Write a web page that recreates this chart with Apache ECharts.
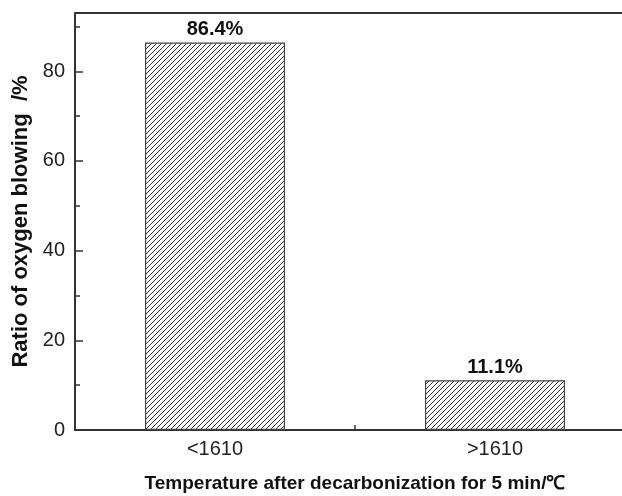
<!DOCTYPE html>
<html>
<head>
<meta charset="utf-8">
<style>
  html, body { margin: 0; padding: 0; background: #fff; }
  #chart { width: 622px; height: 496px; }
</style>
<script src="https://cdn.jsdelivr.net/npm/echarts@6/dist/echarts.min.js"></script>
</head>
<body>
<div id="chart"></div>
<script>
// Categories on the temperature axis and the share of heats in each
const categories = ['<1610', '>1610'];
const ratios = [86.4, 11.1];
const yMajorTicks = [0, 20, 40, 60, 80];
const yMinorTicks = [10, 30, 50, 70, 90];
const yTop = 93;

// Diagonal hatch fill for the bars
function hatchPattern() {
  const c = document.createElement('canvas');
  c.width = 5; c.height = 5;
  const ctx = c.getContext('2d');
  ctx.fillStyle = '#fff';
  ctx.fillRect(0, 0, 5, 5);
  ctx.strokeStyle = '#333';
  ctx.lineWidth = 1;
  ctx.beginPath();
  ctx.moveTo(-1, 6); ctx.lineTo(6, -1);
  ctx.moveTo(-1, 1); ctx.lineTo(1, -1);
  ctx.moveTo(4, 6); ctx.lineTo(6, 4);
  ctx.stroke();
  return c;
}

const chart = echarts.init(document.getElementById('chart'), null, { renderer: 'canvas' });
const axisColor = '#333';
const font = 'Liberation Sans, Arial, Helvetica, sans-serif';

chart.setOption({
  animation: false,
  grid: {
    left: 75, top: 13, width: 560, bottom: 66,
    outerBoundsMode: 'none',
    containLabel: false,
    show: false
  },
  xAxis: {
    type: 'value',
    min: 0.5, max: 2.5, interval: 0.5,
    name: 'Temperature after decarbonization for 5 min/\u2103',
    nameLocation: 'middle',
    nameGap: 44,
    nameTextStyle: { fontFamily: font, fontSize: 19, fontWeight: 'bold', color: '#111' },
    axisLine: { show: true, lineStyle: { color: axisColor, width: 2 } },
    axisTick: { show: true, inside: true, length: 5, customValues: [1, 1.5, 2], lineStyle: { color: axisColor, width: 1.5 } },
    axisLabel: {
      customValues: [1, 2], margin: 9,
      fontFamily: font, fontSize: 20, color: '#222',
      formatter: v => categories[Math.round(v) - 1] || ''
    },
    splitLine: { show: false }
  },
  yAxis: [{
    type: 'value',
    min: 0, max: yTop, interval: 20,
    name: 'Ratio of oxygen blowing  /%',
    nameLocation: 'middle',
    nameGap: 42,
    nameRotate: 90,
    nameTextStyle: { fontFamily: font, fontSize: 22, fontWeight: 'bold', color: '#111' },
    axisLine: { show: true, lineStyle: { color: axisColor, width: 2 } },
    axisTick: { show: true, inside: true, length: 8, customValues: yMajorTicks, lineStyle: { color: axisColor, width: 1.5 } },
    axisLabel: { customValues: yMajorTicks, margin: 10, fontFamily: font, fontSize: 20, color: '#222' },
    splitLine: { show: false }
  }, {
    // minor ticks
    type: 'value',
    position: 'left',
    min: 0, max: yTop, interval: 20,
    axisLine: { show: false },
    axisTick: { show: true, inside: true, length: 5, customValues: yMinorTicks, lineStyle: { color: axisColor, width: 1.5 } },
    axisLabel: { show: false },
    splitLine: { show: false }
  }, {
    // frame line across the top of the plot
    type: 'value',
    position: 'left',
    min: 0, max: yTop, interval: yTop,
    axisLine: { show: false },
    axisTick: { show: false },
    axisLabel: { show: false },
    splitLine: { show: true, showMinLine: false, showMaxLine: true, lineStyle: { color: axisColor, width: 2 } }
  }],
  series: [{
    type: 'bar',
    barWidth: 140,
    data: ratios.map((v, i) => [i + 1, v]),
    itemStyle: {
      color: { image: hatchPattern(), repeat: 'repeat' },
      borderColor: '#444',
      borderWidth: 1.2
    },
    label: {
      show: true,
      position: 'top',
      distance: 3,
      fontFamily: font,
      fontSize: 20,
      fontWeight: 'bold',
      color: '#111',
      formatter: p => p.value[1] + '%'
    }
  }]
});
</script>
</body>
</html>
